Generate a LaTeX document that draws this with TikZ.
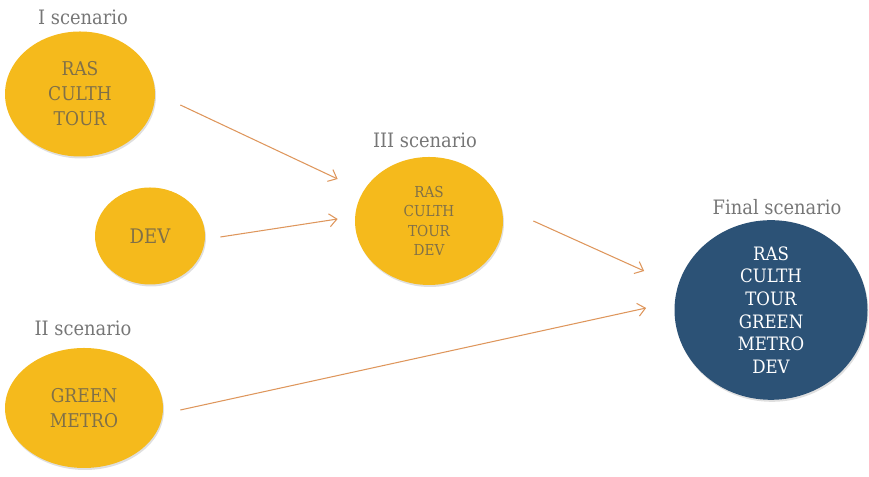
\documentclass[tikz,border=0pt]{standalone}
\usepackage{fontspec}
\setmainfont{DejaVu Serif Condensed}
\usetikzlibrary{shapes.geometric,arrows.meta,shadows}

\definecolor{scengold}{RGB}{245,186,28}
\definecolor{scenblue}{RGB}{44,82,118}
\definecolor{scentext}{RGB}{128,112,72}
\definecolor{scenlabel}{RGB}{118,118,118}
\definecolor{flowline}{RGB}{222,150,92}

\tikzset{
    scen/.style={ellipse, fill=scengold, text=scentext, align=center,
        inner sep=0pt, drop shadow={opacity=0.25, shadow xshift=0.02cm, shadow yshift=-0.04cm}},
    finalscen/.style={scen, fill=scenblue, text=white},
    scenlab/.style={text=scenlabel, font=\fontsize{11.3}{14}\selectfont},
    flow/.style={->, flowline, line width=0.6pt}
}

\begin{document}
\begin{tikzpicture}[>={Straight Barb[length=1.5mm, width=2.6mm]}]
    \useasboundingbox (0,0) rectangle (17.38,9.54);

    \node[scen, minimum width=3.0cm, minimum height=2.5cm,
        font=\fontsize{10.8}{14.2}\selectfont] (first) at (1.6,7.66) {RAS\\CULTH\\TOUR};
    \node[scen, minimum width=2.2cm, minimum height=1.94cm,
        font=\fontsize{11.4}{14.2}\selectfont] (dev) at (3.0,4.82) {DEV};
    \node[scen, minimum width=2.96cm, minimum height=2.56cm,
        font=\fontsize{8.6}{11}\selectfont] (third) at (8.58,5.12) {RAS\\CULTH\\TOUR\\DEV};
    \node[scen, minimum width=3.16cm, minimum height=2.4cm,
        font=\fontsize{10.8}{14.2}\selectfont] (second) at (1.68,1.38) {GREEN\\METRO};
    \node[finalscen, minimum width=3.86cm, minimum height=3.48cm,
        font=\fontsize{10.5}{12.9}\selectfont] (final) at (15.42,3.34)
        {RAS\\CULTH\\TOUR\\GREEN\\METRO\\DEV};

    \node[scenlab] (firstlab) at (1.66,9.2) {I scenario};
    \node[scenlab] (thirdlab) at (8.5,6.74) {III scenario};
    \node[scenlab] (secondlab) at (1.66,2.98) {II scenario};
    \node[scenlab] (finallab) at (15.54,5.4) {Final scenario};

    \draw[flow] ([xshift=0.5cm, yshift=-0.22cm]first.east)
        -- ([xshift=-0.34cm, yshift=0.84cm]third.west);
    \draw[flow] ([xshift=0.3cm, yshift=-0.02cm]dev.east)
        -- ([xshift=-0.34cm, yshift=0.04cm]third.west);
    \draw[flow] ([xshift=0.6cm]third.east)
        -- ([xshift=-0.6cm, yshift=0.78cm]final.west);
    \draw[flow] ([xshift=0.34cm, yshift=-0.04cm]second.east)
        -- ([xshift=-0.56cm, yshift=0.04cm]final.west);
\end{tikzpicture}
\end{document}
